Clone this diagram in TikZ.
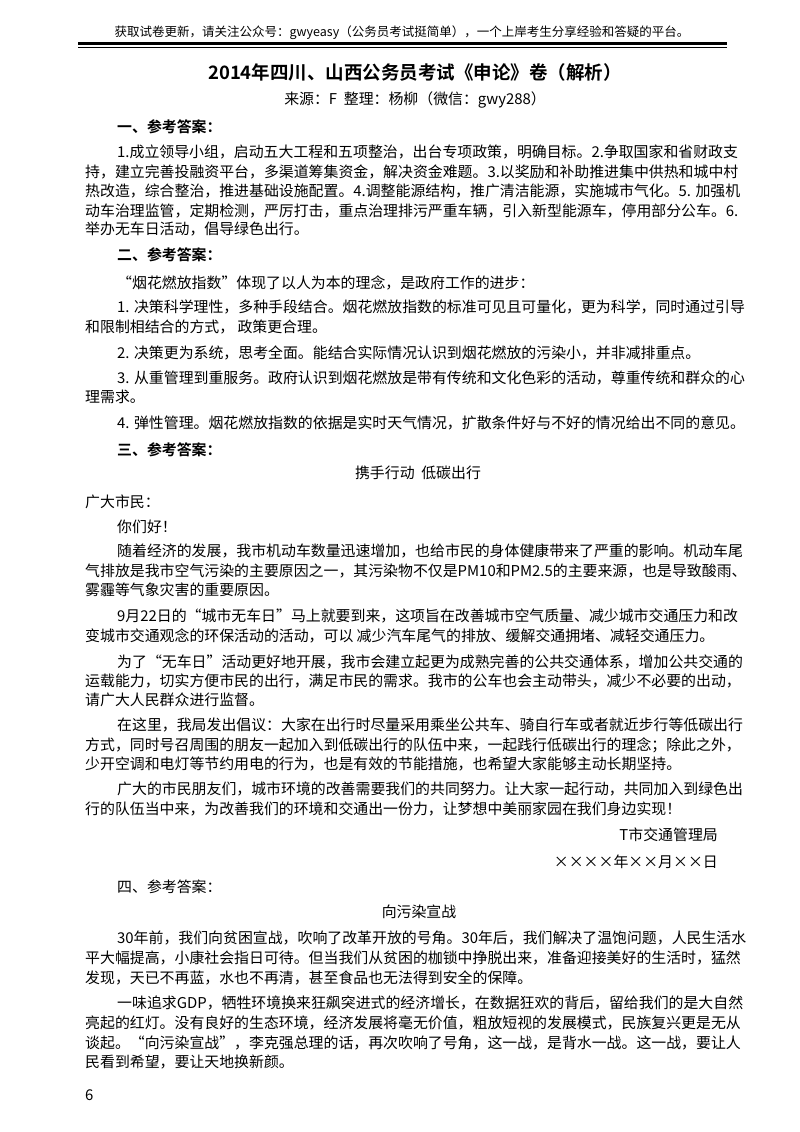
\documentclass[tikz,border=0pt]{standalone}
\usepackage{fontspec}
\setmainfont{Noto Sans CJK SC}
\newfontfamily\cjkb{Noto Sans CJK SC Bold}
\begin{document}
\begin{tikzpicture}[x=1pt,y=-1pt,
  ln/.style={anchor=west,inner sep=0pt,font=\fontsize{14.9}{16}\selectfont},
  rt/.style={anchor=east,inner sep=0pt,font=\fontsize{14.9}{16}\selectfont},
  ct/.style={anchor=center,inner sep=0pt,font=\fontsize{14.9}{16}\selectfont},
  hd/.style={anchor=west,inner sep=0pt,font=\cjkb\fontsize{14.9}{16}\selectfont}]
\useasboundingbox (0,0) rectangle (800,1132);
\fill[white] (0,0) rectangle (800,1132);
\node[anchor=center,inner sep=0pt,font=\fontsize{12.5}{14}\selectfont] (hdr) at (402,33) {获取试卷更新，请关注公众号：gwyeasy（公务员考试挺简单），一个上岸考生分享经验和答疑的平台。};
\coordinate (r1a) at (78,43.5); \coordinate (r1b) at (727,43.5);
\coordinate (r2a) at (78,47.3); \coordinate (r2b) at (727,47.3);
\draw[line width=2.2pt] (r1a) -- (r1b);
\draw[line width=0.8pt] (r2a) -- (r2b);
\node[anchor=center,inner sep=0pt,font=\cjkb\fontsize{18.5}{20}\selectfont] (title) at (415,72) {2014年四川、山西公务员考试《申论》卷（解析）};
\node[ct] (src) at (415,100) {来源：F\ \ 整理：杨柳（微信：gwy288）};
\node[hd] (h1) at (117,127) {一、参考答案：};
\node[ln] (a1) at (117,152) {1.成立领导小组，启动五大工程和五项整治，出台专项政策，明确目标。2.争取国家和省财政支};
\node[ln] (a2) at (85,172) {持，建立完善投融资平台，多渠道筹集资金，解决资金难题。3.以奖励和补助推进集中供热和城中村};
\node[ln] (a3) at (85,191) {热改造，综合整治，推进基础设施配置。4.调整能源结构，推广清洁能源，实施城市气化。5. 加强机};
\node[ln] (a4) at (85,211) {动车治理监管，定期检测，严厉打击，重点治理排污严重车辆，引入新型能源车，停用部分公车。6.};
\node[ln] (a5) at (85,229) {举办无车日活动，倡导绿色出行。};
\node[hd] (h2) at (117,255) {二、参考答案：};
\node[ln] (b1) at (117,283) {“烟花燃放指数”体现了以人为本的理念，是政府工作的进步：};
\node[ln] (b2) at (117,307) {1. 决策科学理性，多种手段结合。烟花燃放指数的标准可见且可量化，更为科学，同时通过引导};
\node[ln] (b3) at (85,327) {和限制相结合的方式，\ 政策更合理。};
\node[ln] (b4) at (117,353) {2. 决策更为系统，思考全面。能结合实际情况认识到烟花燃放的污染小，并非减排重点。};
\node[ln] (b5) at (117,378) {3. 从重管理到重服务。政府认识到烟花燃放是带有传统和文化色彩的活动，尊重传统和群众的心};
\node[ln] (b6) at (85,397) {理需求。};
\node[ln] (b7) at (117,423) {4. 弹性管理。烟花燃放指数的依据是实时天气情况，扩散条件好与不好的情况给出不同的意见。};
\node[hd] (h3) at (117,450) {三、参考答案：};
\node[ct] (t3) at (418,473) {携手行动\ \ 低碳出行};
\node[ln] (c1) at (85,502) {广大市民：};
\node[ln] (c2) at (117,527) {你们好！};
\node[ln] (c3) at (117,551) {随着经济的发展，我市机动车数量迅速增加，也给市民的身体健康带来了严重的影响。机动车尾};
\node[ln] (c4) at (85,571) {气排放是我市空气污染的主要原因之一，其污染物不仅是PM10和PM2.5的主要来源，也是导致酸雨、};
\node[ln] (c5) at (85,590) {雾霾等气象灾害的重要原因。};
\node[ln] (c6) at (117,616) {9月22日的“城市无车日”马上就要到来，这项旨在改善城市空气质量、减少城市交通压力和改};
\node[ln] (c7) at (85,636) {变城市交通观念的环保活动的活动，可以 减少汽车尾气的排放、缓解交通拥堵、减轻交通压力。};
\node[ln] (c8) at (117,662) {为了“无车日”活动更好地开展，我市会建立起更为成熟完善的公共交通体系，增加公共交通的};
\node[ln] (c9) at (85,681) {运载能力，切实方便市民的出行，满足市民的需求。我市的公车也会主动带头，减少不必要的出动，};
\node[ln] (c10) at (85,700) {请广大人民群众进行监督。};
\node[ln] (c11) at (117,725) {在这里，我局发出倡议：大家在出行时尽量采用乘坐公共车、骑自行车或者就近步行等低碳出行};
\node[ln] (c12) at (85,745) {方式，同时号召周围的朋友一起加入到低碳出行的队伍中来，一起践行低碳出行的理念；除此之外，};
\node[ln] (c13) at (85,764) {少开空调和电灯等节约用电的行为，也是有效的节能措施，也希望大家能够主动长期坚持。};
\node[ln] (c14) at (117,789) {广大的市民朋友们，城市环境的改善需要我们的共同努力。让大家一起行动，共同加入到绿色出};
\node[ln] (c15) at (85,809) {行的队伍当中来，为改善我们的环境和交通出一份力，让梦想中美丽家园在我们身边实现！};
\node[rt] (c16) at (718,835) {T市交通管理局};
\node[rt] (c17) at (718,862) {××××年××月××日};
\node[ln] (h4) at (117,887) {四、参考答案：};
\node[ct] (t4) at (419,912) {向污染宣战};
\node[ln] (d1) at (117,938) {30年前，我们向贫困宣战，吹响了改革开放的号角。30年后，我们解决了温饱问题，人民生活水};
\node[ln] (d2) at (85,958) {平大幅提高，小康社会指日可待。但当我们从贫困的枷锁中挣脱出来，准备迎接美好的生活时，猛然};
\node[ln] (d3) at (85,978) {发现，天已不再蓝，水也不再清，甚至食品也无法得到安全的保障。};
\node[ln] (d4) at (117,1003) {一味追求GDP，牺牲环境换来狂飙突进式的经济增长，在数据狂欢的背后，留给我们的是大自然};
\node[ln] (d5) at (85,1023) {亮起的红灯。没有良好的生态环境，经济发展将毫无价值，粗放短视的发展模式，民族复兴更是无从};
\node[ln] (d6) at (85,1043) {谈起。“向污染宣战”，李克强总理的话，再次吹响了号角，这一战，是背水一战。这一战，要让人};
\node[ln] (d7) at (85,1062) {民看到希望，要让天地换新颜。};
\node[ln] (pg) at (85,1095) {6};
\end{tikzpicture}
\end{document}
